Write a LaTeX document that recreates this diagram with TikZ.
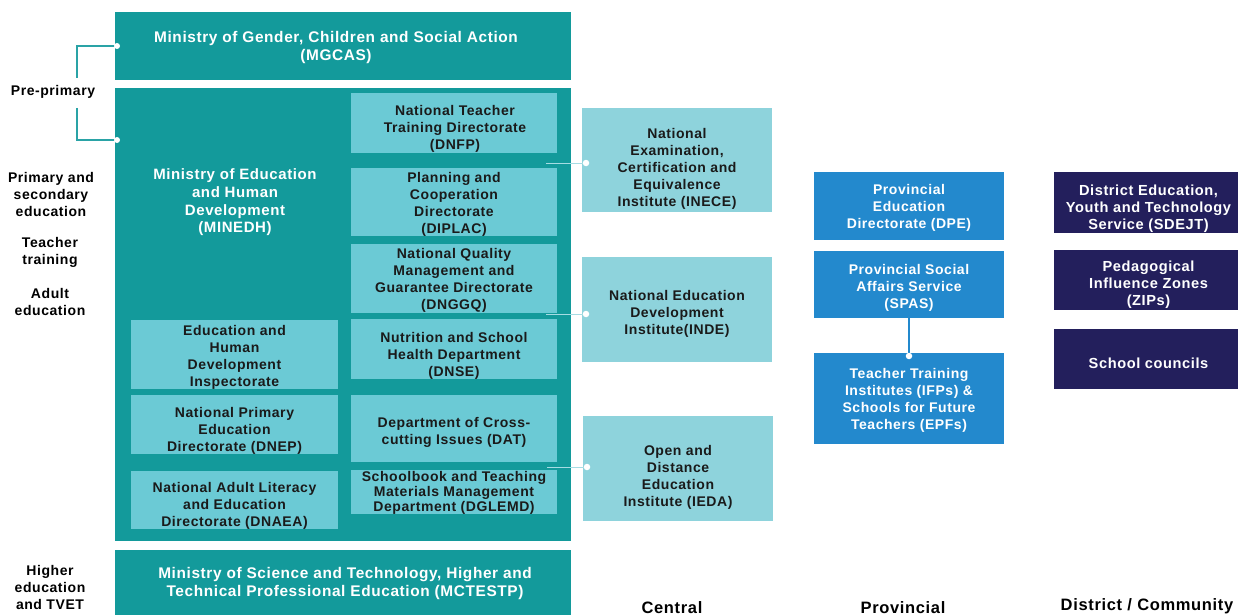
\documentclass[tikz,border=0pt]{standalone}
\usepackage{fontspec}
\setmainfont{Liberation Sans}[LetterSpace=4]
\definecolor{teal}{HTML}{139A9B}
\definecolor{subc}{HTML}{6BCAD5}
\definecolor{inst}{HTML}{8ED3DC}
\definecolor{prov}{HTML}{2389CD}
\definecolor{dist}{HTML}{231F5C}
\definecolor{ink}{HTML}{1A1A1A}
\definecolor{thin}{HTML}{A6DCE3}
\definecolor{brk}{HTML}{2AA3A6}
\begin{document}
\begin{tikzpicture}[x=1pt,y=-1pt,
  box/.style={inner sep=0pt, outer sep=0pt, draw=none},
  txt/.style={inner sep=0pt, outer sep=0pt, align=center},
  bigf/.style={font=\bfseries\fontsize{15.4}{18}\selectfont},
  smallf/.style={font=\bfseries\fontsize{14}{17}\selectfont},
  ministry/.style={box, fill=teal},
  dept/.style={box, fill=subc},
  institute/.style={box, fill=inst},
  provbox/.style={box, fill=prov},
  distbox/.style={box, fill=dist},
  wtxt/.style={txt, text=white, smallf},
  dtxt/.style={txt, text=ink, smallf},
  lbl/.style={txt, text=black, smallf},
  levellbl/.style={txt, text=black, anchor=base, font=\bfseries\fontsize{16.5}{20}\selectfont},
  thinline/.style={draw=thin, line width=1pt},
  bracket/.style={draw=brk, line width=1.1pt},
  provline/.style={draw=prov, line width=1.3pt},
  dot/.style={circle, fill=white, draw=none, minimum size=6.5pt, inner sep=0pt}
]
\useasboundingbox (0,0) rectangle (1238,615);

% ministries
\node[ministry, minimum width=456pt, minimum height=68pt] (mgcas) at (343,46) {};
\node[txt, text=white, bigf] (mgcas-t) at (336,47.5)
  {Ministry of Gender, Children and Social Action\\(MGCAS)};
\node[ministry, minimum width=456pt, minimum height=453pt] (minedh) at (343,314.5) {};
\node[txt, text=white, bigf, font=\bfseries\fontsize{15}{17.7}\selectfont] (minedh-t) at (235,202.5)
  {Ministry of Education\\and Human\\Development\\(MINEDH)};
\node[ministry, minimum width=456pt, minimum height=65pt] (mctestp) at (343,582.5) {};
\node[txt, text=white, bigf] (mctestp-t) at (345,584)
  {Ministry of Science and Technology, Higher and\\Technical Professional Education (MCTESTP)};

% MINEDH departments, right column
\node[dept, minimum width=206pt, minimum height=60pt] (dnfp) at (454,123) {};
\node[dtxt] (dnfp-t) at (455,129)
  {National Teacher\\Training Directorate\\(DNFP)};
\node[dept, minimum width=206pt, minimum height=68pt] (diplac) at (454,202) {};
\node[dtxt] (diplac-t) at (454,204.5)
  {Planning and\\Cooperation\\Directorate\\(DIPLAC)};
\node[dept, minimum width=206pt, minimum height=69pt] (dnggq) at (454,278.5) {};
\node[dtxt] (dnggq-t) at (454,280.5)
  {National Quality\\Management and\\Guarantee Directorate\\(DNGGQ)};
\node[dept, minimum width=206pt, minimum height=60pt] (dnse) at (454,349) {};
\node[dtxt] (dnse-t) at (454,355.5)
  {Nutrition and School\\Health Department\\(DNSE)};
\node[dept, minimum width=206pt, minimum height=67pt] (dat) at (454,428.5) {};
\node[dtxt] (dat-t) at (454,432.5)
  {Department of Cross-\\cutting Issues (DAT)};
\node[dept, minimum width=206pt, minimum height=44pt] (dglemd) at (454,492) {};
\node[dtxt, font=\bfseries\fontsize{14}{15}\selectfont] (dglemd-t) at (454,493)
  {Schoolbook and Teaching\\Materials Management\\Department (DGLEMD)};

% MINEDH departments, left column
\node[dept, minimum width=207pt, minimum height=69pt] (ehdi) at (234.5,354.5) {};
\node[dtxt] (ehdi-t) at (234.5,357.5)
  {Education and\\Human\\Development\\Inspectorate};
\node[dept, minimum width=207pt, minimum height=59pt] (dnep) at (234.5,424.5) {};
\node[dtxt] (dnep-t) at (234.5,430.5)
  {National Primary\\Education\\Directorate (DNEP)};
\node[dept, minimum width=207pt, minimum height=58pt] (dnaea) at (234.5,500) {};
\node[dtxt] (dnaea-t) at (234.5,505.5)
  {National Adult Literacy\\and Education\\Directorate (DNAEA)};

% central institutes
\node[institute, minimum width=190pt, minimum height=104pt] (inece) at (677,160) {};
\node[dtxt] (inece-t) at (677,168.5)
  {National\\Examination,\\Certification and\\Equivalence\\Institute (INECE)};
\node[institute, minimum width=190pt, minimum height=105pt] (inde) at (677,309.5) {};
\node[dtxt] (inde-t) at (677,313.5)
  {National Education\\Development\\Institute(INDE)};
\node[institute, minimum width=190pt, minimum height=105pt] (ieda) at (678,468.5) {};
\node[dtxt] (ieda-t) at (678,477.5)
  {Open and\\Distance\\Education\\Institute (IEDA)};

% provincial level
\node[provbox, minimum width=190pt, minimum height=68pt] (dpe) at (909,206) {};
\node[wtxt] (dpe-t) at (909,208)
  {Provincial\\Education\\Directorate (DPE)};
\node[provbox, minimum width=190pt, minimum height=67pt] (spas) at (909,284.5) {};
\node[wtxt] (spas-t) at (909,288)
  {Provincial Social\\Affairs Service\\(SPAS)};
\node[provbox, minimum width=190pt, minimum height=91pt] (ifp) at (909,398.5) {};
\node[wtxt] (ifp-t) at (909,400.5)
  {Teacher Training\\Institutes (IFPs) \&\\Schools for Future\\Teachers (EPFs)};

% district / community level
\node[distbox, minimum width=190pt, minimum height=61pt] (sdejt) at (1149,202.5) {};
\node[wtxt, font=\bfseries\fontsize{14.6}{17.2}\selectfont] (sdejt-t) at (1148.5,209)
  {District Education,\\Youth and Technology\\Service (SDEJT)};
\node[distbox, minimum width=190pt, minimum height=60pt] (zips) at (1149,280) {};
\node[wtxt, font=\bfseries\fontsize{14.6}{17}\selectfont] (zips-t) at (1148.5,285)
  {Pedagogical\\Influence Zones\\(ZIPs)};
\node[distbox, minimum width=190pt, minimum height=60pt] (scc) at (1149,359) {};
\node[wtxt, font=\bfseries\fontsize{14.6}{17}\selectfont] (scc-t) at (1148.5,363)
  {School councils};

% education level labels
\node[lbl] (pre) at (53,92) {Pre-primary};
\node[lbl] (prim) at (51,194) {Primary and\\secondary\\education};
\node[lbl] (teach) at (50,252) {Teacher\\training};
\node[lbl] (adult) at (50,302) {Adult\\education};
\node[lbl] (higher) at (50,587) {Higher\\education\\and TVET};

% administrative level labels
\node[levellbl] (lcentral) at (672,613) {Central};
\node[levellbl] (lprov) at (903,613) {Provincial};
\node[levellbl] (ldist) at (1147,610.5) {District / Community};

% pre-primary bracket
\coordinate (ptop) at (77,78);
\coordinate (pbot) at (77,108);
\coordinate (mdot) at (117,140);
\draw[bracket] (mgcas.west) -| (ptop);
\draw[bracket] (pbot) |- (mdot);
\node[dot, minimum size=6pt] (gdot) at ([xshift=2pt]mgcas.west) {};
\node[dot, minimum size=6pt] (edot) at (mdot) {};

% links from MINEDH to the institutes
\coordinate (k1) at (546,163);
\coordinate (k2) at (546,314);
\coordinate (k3) at (547,467);
\draw[thinline] (k1) -- ([xshift=4pt]k1 -| inece.west) node[dot] (i1) {};
\draw[thinline] (k2) -- ([xshift=4pt]k2 -| inde.west) node[dot] (i2) {};
\draw[thinline] (k3) -- ([xshift=4pt]k3 -| ieda.west) node[dot] (i3) {};

% SPAS to teacher training institutes
\draw[provline] (spas.south) -- ([yshift=-3pt]ifp.north) node[dot] (p1) {};
\end{tikzpicture}
\end{document}
